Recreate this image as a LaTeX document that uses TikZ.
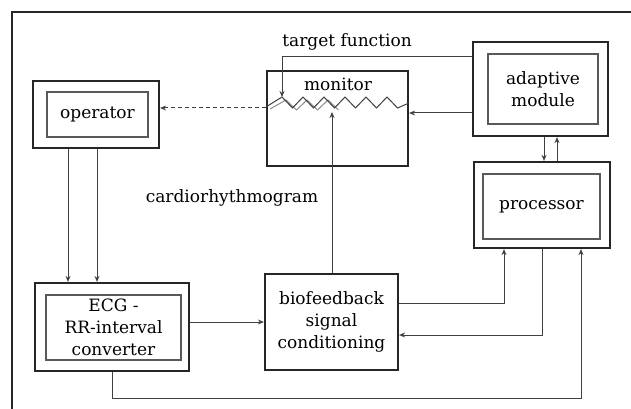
\documentclass[tikz,border=0pt]{standalone}
\usepackage{fontspec}
\setmainfont{DejaVu Serif}
\usetikzlibrary{arrows.meta}
\tikzset{
	outerbox/.style={draw=black!85, line width=2.2pt, inner sep=0pt},
	innerbox/.style={draw=black!65, line width=1.2pt, inner sep=0pt, align=center, font=\fontsize{17}{22}\selectfont},
	plainbox/.style={draw=black!85, line width=2.2pt, inner sep=0pt, align=center, font=\fontsize{17}{22}\selectfont},
	conn/.style={draw=black!75, line width=1pt},
	tip/.style={-{Stealth[length=6pt,width=5pt]}},
	lbl/.style={font=\fontsize{17}{22}\selectfont, inner sep=0pt}
}

\begin{document}
\begin{tikzpicture}[x=1pt,y=-1pt]
			%%%%% START %%%%%
			\useasboundingbox (0,0) rectangle (631,409);
			\draw[line width=2.4pt, black!85] (12,409) -- (12,12) -- (631,12);
			
			% boxes
			\node[outerbox, minimum width=126, minimum height=67] (op) at (96,114.5) {};
			\node[innerbox, minimum width=101, minimum height=45] (opin) at (97.5,114.5) {operator};
			
			\node[plainbox, minimum width=141, minimum height=95] (mon) at (337.5,118.5) {};
			\node[lbl] (monl) at (338,84) {monitor};
			
			\node[outerbox, minimum width=135, minimum height=94] (ad) at (540.5,89) {};
			\node[innerbox, minimum width=110, minimum height=70] (adin) at (543,89) {adaptive\\module};
			
			\node[outerbox, minimum width=136, minimum height=86] (proc) at (542,205) {};
			\node[innerbox, minimum width=117, minimum height=65] (procin) at (541.5,206.5) {processor};
			
			\node[plainbox, minimum width=133, minimum height=96] (bio) at (331.5,322) {biofeedback\\signal\\conditioning};
			
			\node[outerbox, minimum width=154, minimum height=88] (ecg) at (112,327) {};
			\node[innerbox, minimum width=135, minimum height=65] (ecgin) at (113.5,327.5) {ECG -\\RR-interval\\converter};
			
			\node[lbl] (tfl) at (347,42) {target function};
			\node[lbl] (crgl) at (232,198) {cardiorhythmogram};
			
			% waves in the monitor
			\draw[black!45, line width=1pt] (270,109) \foreach \k in {0,1,2} { -- (286+21*\k,100) -- (296.5+21*\k,110) };
			\draw[black!75, line width=1pt] (mon.west |- 0,107) \foreach \k in {0,...,5} { -- (282+21*\k,97) -- (292.5+21*\k,108) } -- (mon.east |- 0,103);
			\coordinate (tf) at (282,97);
			\coordinate (crg) at (332,112);
			\coordinate (bot) at (581,398);
			
			% connectors
			\draw[conn, tip] (op.south -| 68,0) -- (ecg.north -| 68,0);
			\draw[conn, tip] (op.south -| 97,0) -- (ecg.north -| 97,0);
			\draw[conn, tip] (ecg.east |- 0,322) -- (bio.west |- 0,322);
			\draw[conn, tip] (bio.north -| crg) -- (crg);
			\draw[conn, tip] (ad.west |- 0,113) -- (mon.east |- 0,113);
			\draw[conn, tip] (ad.west |- 0,57) -| (tf);
			\draw[conn, tip, dash pattern=on 4pt off 3pt] (mon.west |- 0,108) -- (op.east |- 0,108);
			\draw[conn, tip] (ad.south -| 544,0) -- (proc.north -| 544,0);
			\draw[conn, tip] (proc.north -| 557,0) -- (ad.south -| 557,0);
			\draw[conn, tip] (bio.east |- 0,303) -| (proc.south -| 504,0);
			\draw[conn, tip] (proc.south -| 542,0) |- (bio.east |- 0,335);
			\draw[conn, tip] (ecg.south) |- (bot) -- (proc.south -| bot);
			%%%%% END %%%%%
\end{tikzpicture}
\end{document}
